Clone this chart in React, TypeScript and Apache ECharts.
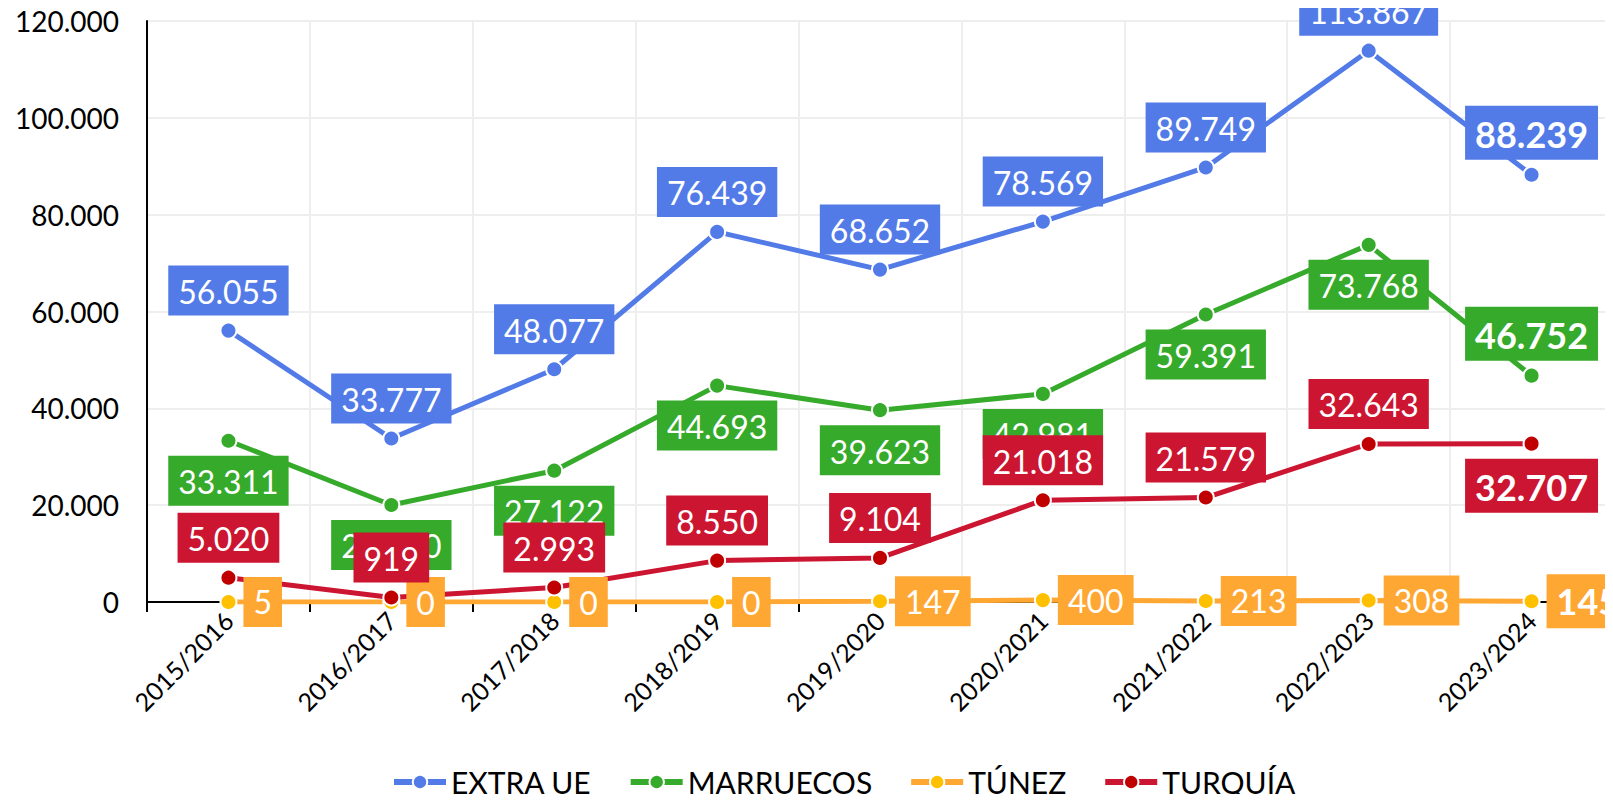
import React, { useEffect, useRef } from "react";
import * as echarts from "echarts";

const categories = ["2015/2016", "2016/2017", "2017/2018", "2018/2019", "2019/2020", "2020/2021", "2021/2022", "2022/2023", "2023/2024"];
const extraUE = [56055, 33777, 48077, 76439, 68652, 78569, 89749, 113867, 88239];
const marruecos = [33311, 20040, 27122, 44693, 39623, 42981, 59391, 73768, 46752];
const tunez = [5, 0, 0, 0, 147, 400, 213, 308, 145];
const turquia = [5020, 919, 2993, 8550, 9104, 21018, 21579, 32643, 32707];
const yTicks = [0, 20000, 40000, 60000, 80000, 100000, 120000];

const FONT = "Lato";

const fmt = (v: number) => String(Math.round(v)).replace(/\B(?=(\d{3})+(?!\d))/g, ".");

function makeSeries(name: string, data: number[], lineColor: string, markColor: string, pos: string, lastPos: string) {
  return {
    name,
    type: "line",
    data: data.map((v, i) =>
      i === data.length - 1
        ? { value: v, label: { position: lastPos, fontWeight: "bold", fontSize: 36, padding: [10, 10, 8, 10] } }
        : v
    ),
    symbol: "circle",
    symbolSize: 16,
    lineStyle: { color: lineColor, width: 5 },
    itemStyle: { color: markColor, borderColor: "#ffffff", borderWidth: 2 },
    label: {
      show: true,
      position: pos,
      distance: 6,
      color: "#ffffff",
      backgroundColor: lineColor,
      fontFamily: FONT,
      fontSize: 32,
      padding: [10, 10, 8, 10],
      formatter: (p: any) => fmt(p.value),
    },
    emphasis: { disabled: true },
  };
}

export default function App() {
  const ref = useRef<HTMLDivElement>(null);
  useEffect(() => {
    if (!ref.current) return;
    const chart = echarts.init(ref.current, null, { renderer: "svg" });
    chart.setOption({
      animation: false,
      grid: { left: 147, right: 0, top: 21, bottom: 200, containLabel: false },
      legend: {
        bottom: 0,
        left: 386,
        itemWidth: 52,
        itemHeight: 18,
        itemGap: 36,
        lineStyle: { width: 6 },
        textStyle: { fontFamily: FONT, fontSize: 30, color: "#000" },
        data: ["EXTRA UE", "MARRUECOS", "TÚNEZ", "TURQUÍA"],
      },
      xAxis: {
        type: "category",
        data: categories,
        boundaryGap: true,
        axisLine: { lineStyle: { color: "#000", width: 2 } },
        axisTick: { show: true, length: 10, lineStyle: { color: "#000", width: 2 } },
        splitLine: { show: true, lineStyle: { color: "#eeeeee", width: 2 } },
        axisLabel: { rotate: 45, fontFamily: FONT, fontSize: 25, color: "#000", margin: 14 },
      },
      yAxis: {
        type: "value",
        min: yTicks[0],
        max: yTicks[yTicks.length - 1],
        interval: 20000,
        axisLine: { show: true, lineStyle: { color: "#000", width: 2 } },
        axisTick: { show: false },
        splitLine: { show: true, lineStyle: { color: "#eeeeee", width: 2 } },
        axisLabel: { fontFamily: FONT, fontSize: 28, color: "#000", margin: 28, formatter: (v: number) => fmt(v) },
      },
      series: [
        makeSeries("EXTRA UE", extraUE, "#527BE8", "#527BE8", "top", "top"),
        makeSeries("MARRUECOS", marruecos, "#36AA2B", "#36AA2B", "bottom", "top"),
        makeSeries("TÚNEZ", tunez, "#FFA733", "#FFC000", "right", "right"),
        makeSeries("TURQUÍA", turquia, "#CC1530", "#C00000", "top", "bottom"),
      ],
    });
    return () => chart.dispose();
  }, []);
  return <div ref={ref} style={{ width: 1613, height: 802, margin: -8 }} />;
}
